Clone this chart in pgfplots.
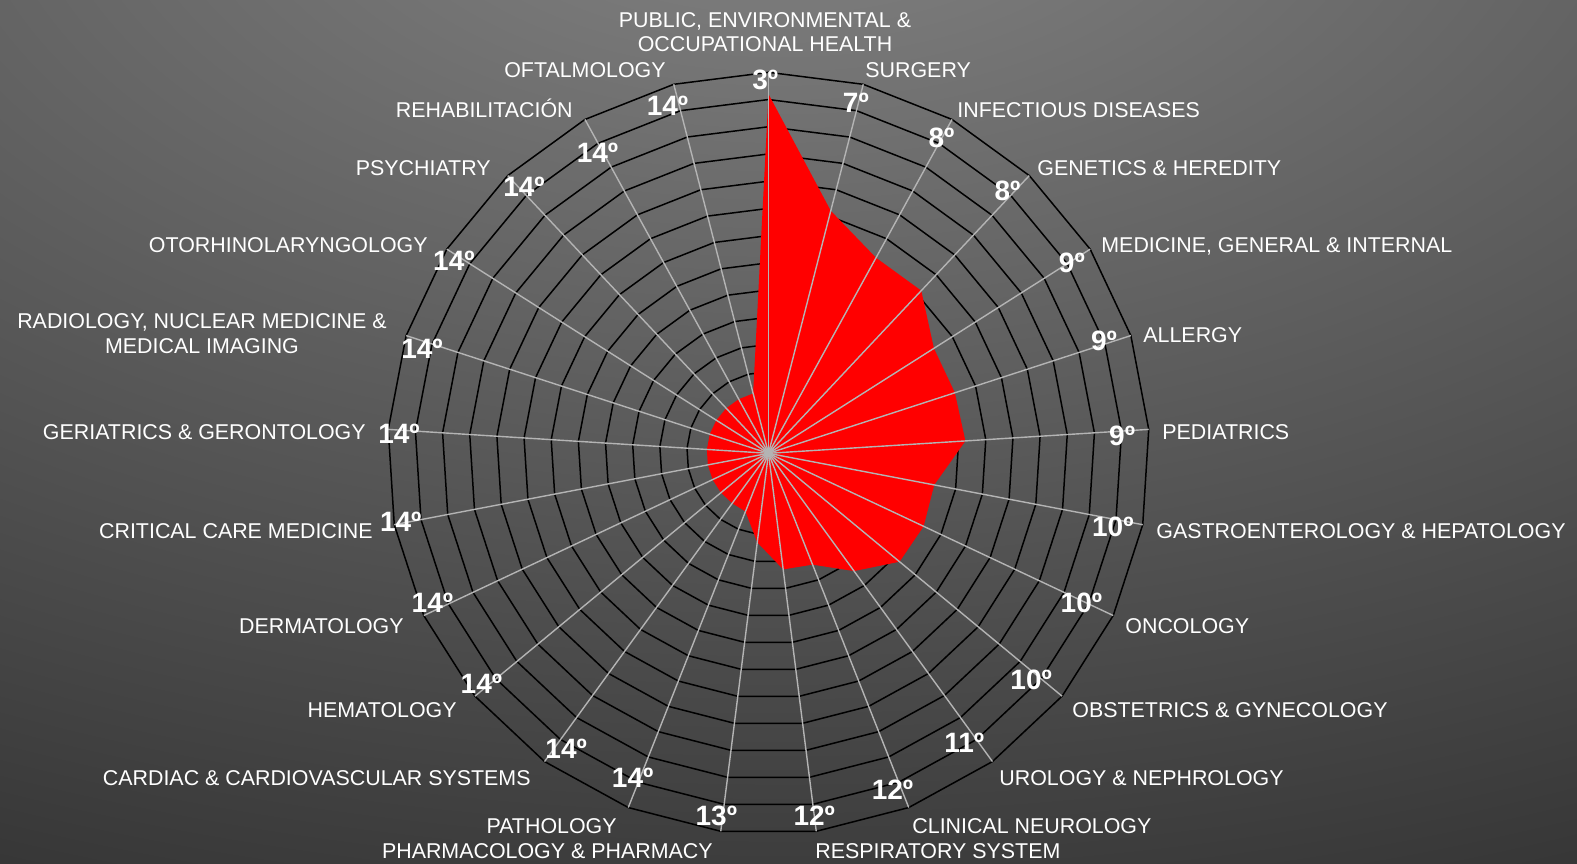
\documentclass[border=0pt]{standalone}
\usepackage{pgfplots}
\pgfplotsset{compat=1.18}
\usepackage{pgfplotstable}
\usepgfplotslibrary{polar}
\usepackage{fontspec}
\setmainfont{Liberation Sans}

\definecolor{bgtop}{HTML}{848484}
\definecolor{bgbot}{HTML}{181818}
\definecolor{spoke}{HTML}{B4B4B4}

% category angle, plotted radius, rank
\pgfplotstableread{
ang   val   rank
90    13.2  3
75.6  9.2   7
61.2  8.2   8
46.8  8.2   8
32.4  7.2   9
18    7.2   9
3.6   7.25  9
349.2 6.2   10
334.8 6.3   10
320.4 6.25  10
306   5.35  11
291.6 4.4   12
277.2 4.3   12
262.8 3.3   13
248.4 2.3   14
234   2.27  14
219.6 2.27  14
205.2 2.27  14
190.8 2.27  14
176.4 2.27  14
162   2.27  14
147.6 2.27  14
133.2 2.27  14
118.8 2.27  14
104.4 2.27  14
90    13.2  3
}\ranks

% where the rank labels sit
\pgfplotstableread{
ang   r     lab
90.5  13.71 3º
76.0  13.27 7º
61.3  13.23 8º
47.7  13.05 8º
32.1  13.16 9º
18.6  13.01 9º
2.9   13.01 9º
347.9 12.94 10º
334.4 12.75 10º
319.2 12.75 10º
304.1 12.83 11º
290.2 13.19 12º
277.2 13.41 12º
261.8 13.45 13º
247.3 12.94 14º
235.6 13.16 14º
218.7 13.52 14º
204.0 13.52 14º
190.6 13.75 14º
176.9 13.60 14º
163.2 13.30 14º
148.5 13.56 14º
132.5 13.30 14º
119.6 12.72 14º
106.2 13.30 14º
}\labpos

\begin{document}
\begin{tikzpicture}
\path[use as bounding box] (0,0) rectangle (788.5pt,-431.5pt);
\begin{scope}[x=0.5pt,y=-0.5pt]
  \clip (0,0) rectangle (1577,863);
  \shade[inner color=bgtop, outer color=bgbot] (780,-150) ellipse (1400pt and 770pt);
\end{scope}

\begin{polaraxis}[
  at={(384.25pt,-226.65pt)}, anchor=center,
  scale only axis, width=381pt, height=381pt,
  hide axis, clip=false,
  xmin=0, xmax=360, ymin=0, ymax=14,
]
  % polygon rings
  \pgfplotsinvokeforeach{1,...,14}{
    \draw[black, line width=0.75pt] (axis cs:90,#1)
      \foreach \a in {1,...,24}{ -- (axis cs:{90-14.4*\a},#1) } -- cycle;
  }
  \addplot[draw=none, fill=red] table[x=ang, y=val] {\ranks};
  % spokes
  \pgfplotsinvokeforeach{0,...,24}{
    \draw[spoke, line width=0.7pt] (axis cs:0,0) -- (axis cs:{90-14.4*#1},14);
  }
  \addplot[draw=none, mark=none, nodes near coords, point meta=explicit symbolic,
    every node near coord/.style={anchor=center, text=white, inner sep=0pt,
      font=\bfseries\fontsize{14}{14}\selectfont}]
    table[x=ang, y=r, meta=lab] {\labpos};
\end{polaraxis}

\begin{scope}[x=0.5pt,y=-0.5pt,
  every node/.style={text=white, inner sep=0pt, font=\fontsize{10.7}{13}\selectfont}]
  \node[anchor=base] at (765,27.3) {PUBLIC, ENVIRONMENTAL \&};
  \node[anchor=base] at (765,51.7) {OCCUPATIONAL HEALTH};
  \node[anchor=base west] at (865,77.5) {SURGERY};
  \node[anchor=base west] at (957,117) {INFECTIOUS DISEASES};
  \node[anchor=base west] at (1037,175) {GENETICS \& HEREDITY};
  \node[anchor=base west] at (1101,252) {MEDICINE, GENERAL \& INTERNAL};
  \node[anchor=base west] at (1143,342) {ALLERGY};
  \node[anchor=base west] at (1162,439) {PEDIATRICS};
  \node[anchor=base west] at (1156,538) {GASTROENTEROLOGY \& HEPATOLOGY};
  \node[anchor=base west] at (1125,633) {ONCOLOGY};
  \node[anchor=base west] at (1072,717) {OBSTETRICS \& GYNECOLOGY};
  \node[anchor=base west] at (999,785) {UROLOGY \& NEPHROLOGY};
  \node[anchor=base west] at (912,833) {CLINICAL NEUROLOGY};
  \node[anchor=base west] at (815,858) {RESPIRATORY SYSTEM};
  \node[anchor=base east] at (713,858) {PHARMACOLOGY \& PHARMACY};
  \node[anchor=base east] at (617,833) {PATHOLOGY};
  \node[anchor=base east] at (531,785) {CARDIAC \& CARDIOVASCULAR SYSTEMS};
  \node[anchor=base east] at (457,717) {HEMATOLOGY};
  \node[anchor=base east] at (404,633) {DERMATOLOGY};
  \node[anchor=base east] at (373,538) {CRITICAL CARE MEDICINE};
  \node[anchor=base east] at (366,439) {GERIATRICS \& GERONTOLOGY};
  \node[anchor=base] at (202,328) {RADIOLOGY, NUCLEAR MEDICINE \&};
  \node[anchor=base] at (202,353) {MEDICAL IMAGING};
  \node[anchor=base east] at (428,252) {OTORHINOLARYNGOLOGY};
  \node[anchor=base east] at (491,175) {PSYCHIATRY};
  \node[anchor=base east] at (573,117) {REHABILITACIÓN};
  \node[anchor=base east] at (666,77.5) {OFTALMOLOGY};
\end{scope}
\end{tikzpicture}
\end{document}
